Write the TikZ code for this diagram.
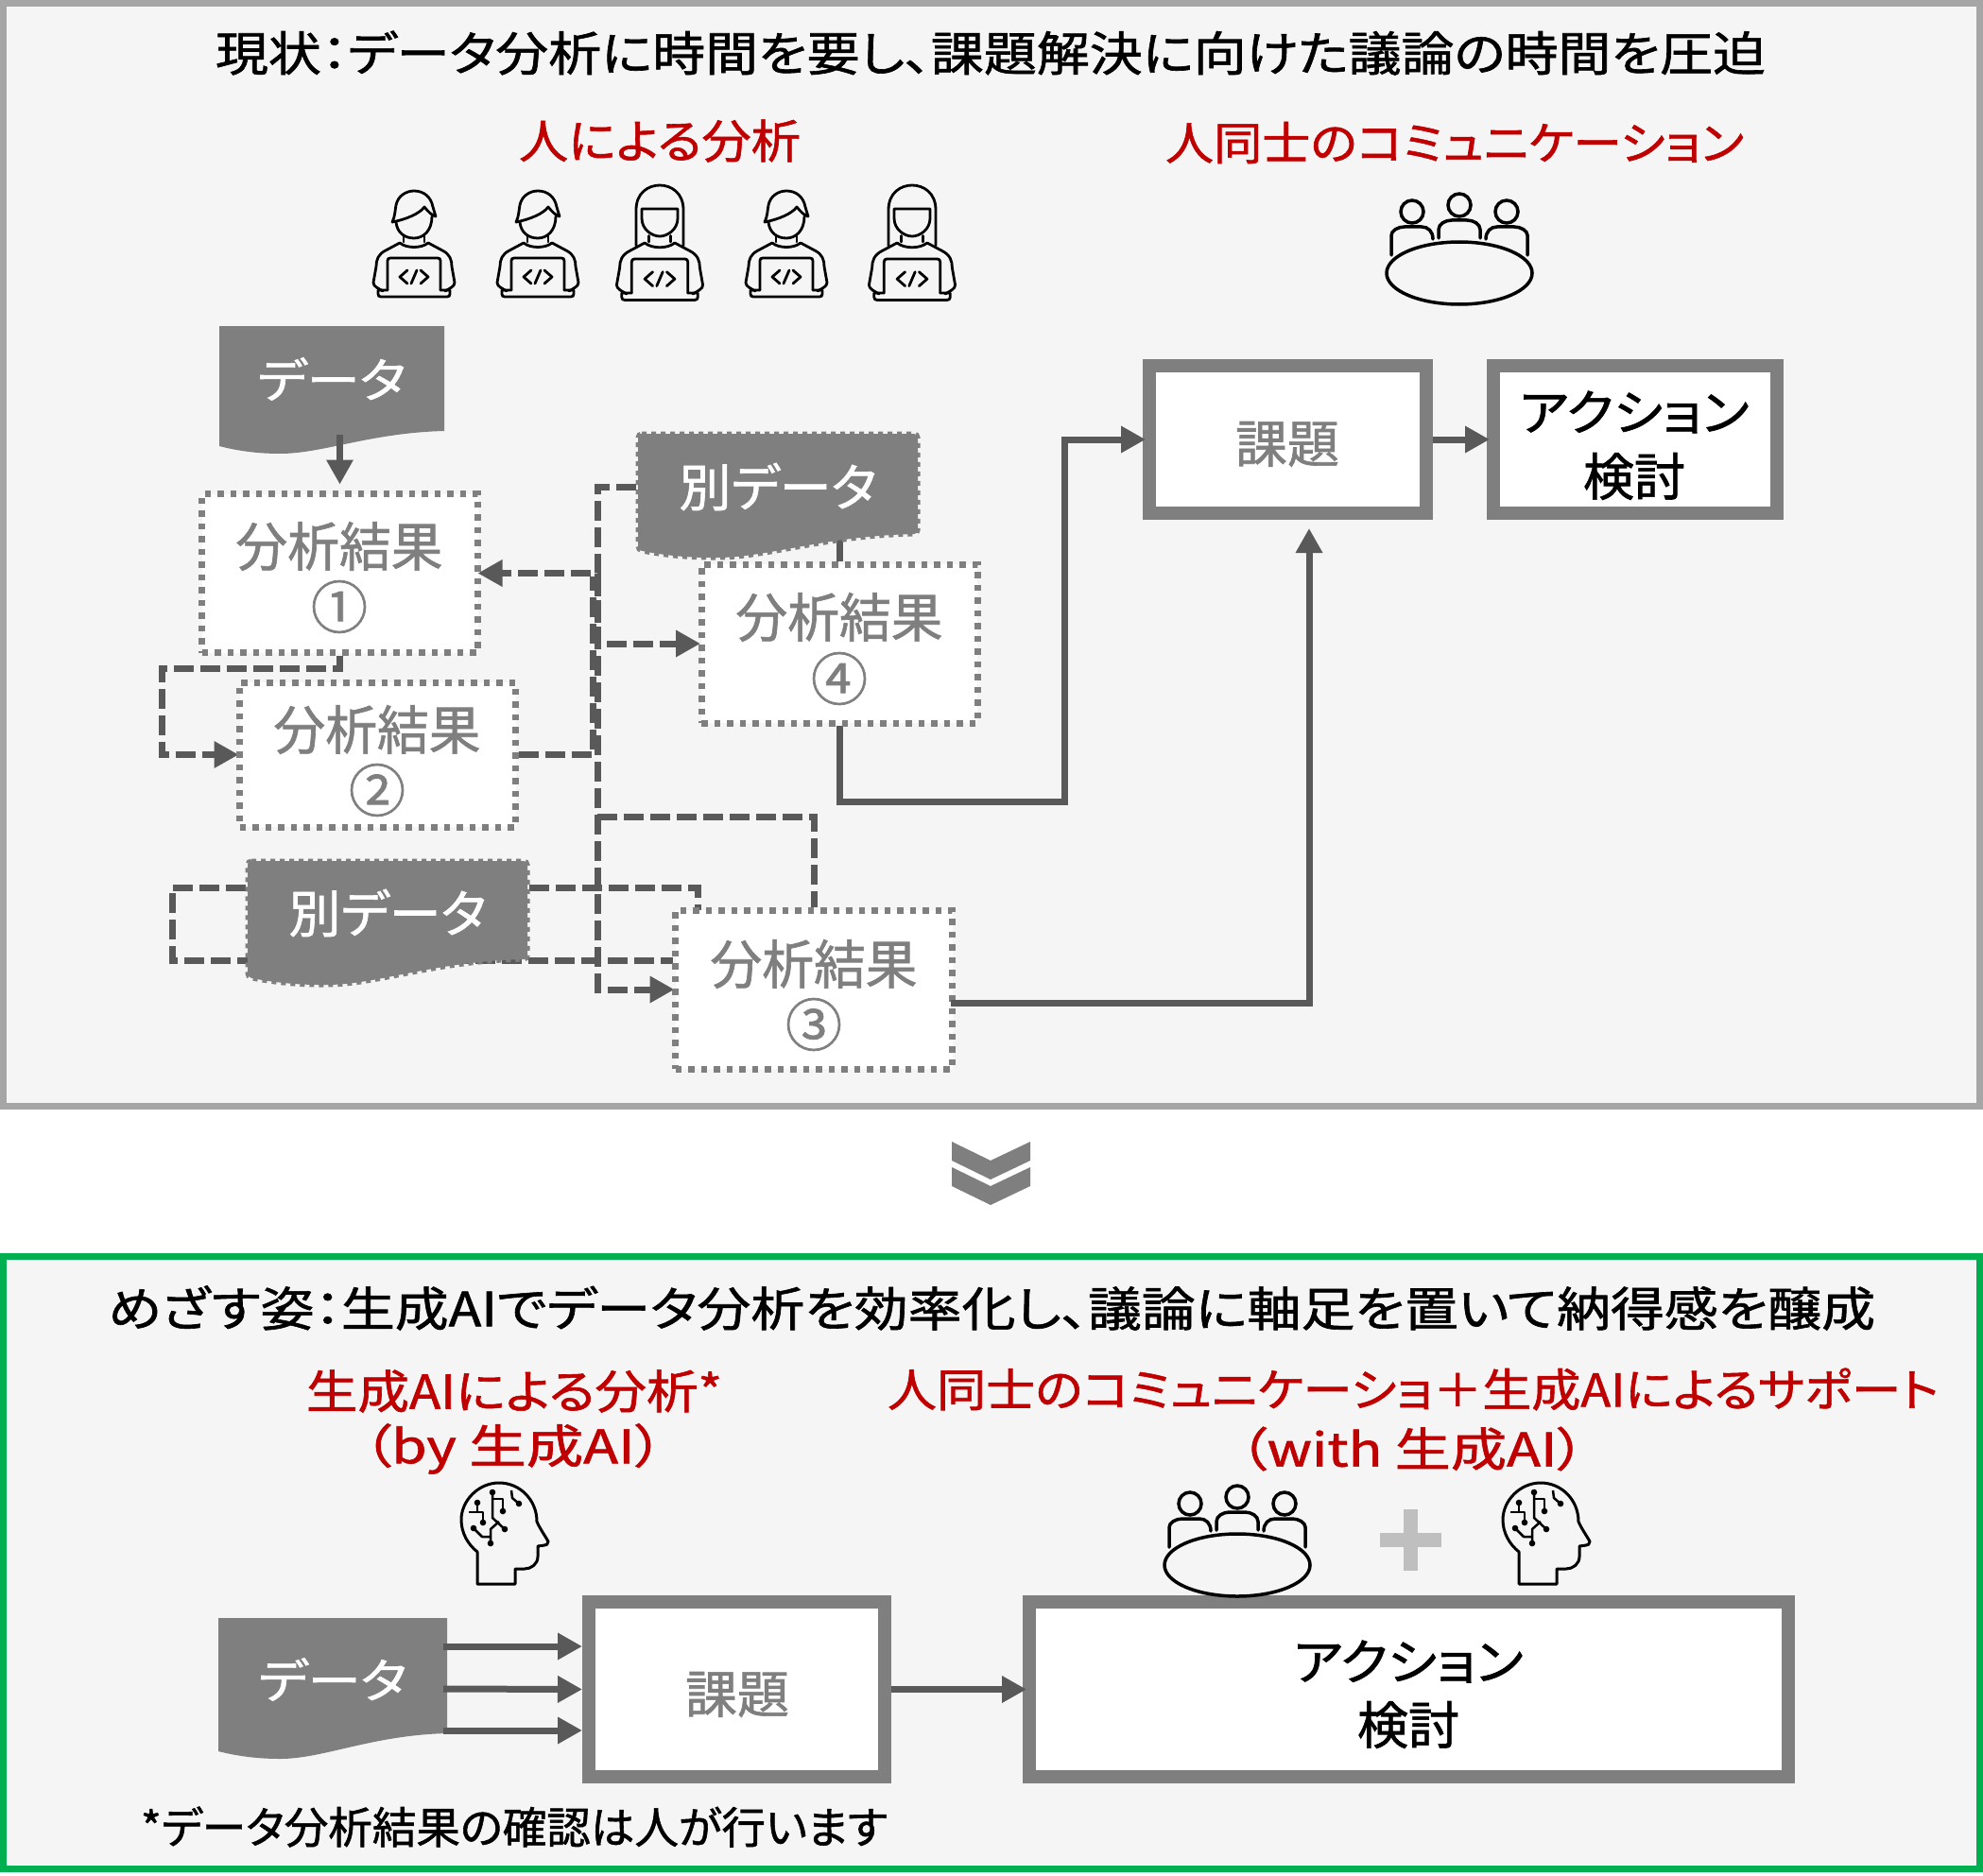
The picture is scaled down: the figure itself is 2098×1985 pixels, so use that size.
\documentclass[tikz,border=0pt]{standalone}
\usepackage{fontspec}
\usepackage{graphicx}
\usetikzlibrary{arrows.meta}
\setmainfont{Noto Sans CJK JP}[RawFeature=+palt,FakeBold=1.2]
\definecolor{panelbg}{HTML}{F5F5F5}
\definecolor{panelgray}{HTML}{A6A6A6}
\definecolor{panelgreen}{HTML}{00B050}
\definecolor{midgray}{HTML}{7F7F7F}
\definecolor{arrowgray}{HTML}{595959}
\definecolor{plusgray}{HTML}{BFBFBF}
\definecolor{redtext}{HTML}{C00000}
\newcommand{\fitT}[3]{\resizebox{#1pt}{\height}{\fontsize{#2pt}{#2pt}\selectfont #3}}
\newcommand{\docshape}[6]{\begin{scope}[shift={(#2,#3)}]\path[#1] (0,0) -- (#4,0) -- (#4,#5) .. controls ({0.67*#4},{#5+2}) and ({0.46*#4},#6) .. ({0.27*#4},#6) .. controls ({0.17*#4},#6) and ({0.08*#4},{#6-3}) .. (0,{#6-8}) -- cycle;\end{scope}}
\newcommand{\bodyicon}{%
 \draw (-11,-7) -- (-11,-1) (11,-7) -- (11,-1);
 \draw (-15,0) .. controls (-8,6) and (8,6) .. (15,0);
 \draw (-15,0) -- (-30,8) .. controls (-38,12) and (-40,18) .. (-40,25) -- (-43,42) .. controls (-43,46) and (-38,48) .. (-33,51);
 \draw (15,0) -- (30,8) .. controls (38,12) and (40,18) .. (40,25) -- (43,42) .. controls (43,46) and (38,48) .. (33,51);
 \draw (-28,50) -- (-28,19) .. controls (-28,17) and (-27,16) .. (-25,16) -- (25,16) .. controls (27,16) and (28,17) .. (28,19) -- (28,50);
 \draw (-28,50) -- (-38,50) -- (-38,54) .. controls (-38,56) and (-37,57) .. (-35,57) -- (35,57) .. controls (37,57) and (38,56) .. (38,54) -- (38,50) -- (28,50);
 \draw (-7,29) -- (-15,36) -- (-7,43) (3,29) -- (-3,43) (7,29) -- (15,36) -- (7,43);
}
\tikzset{
 x=1pt,y=-1pt,
 every node/.style={inner sep=0pt,outer sep=0pt,font=\rmfamily},
 dotbox/.style={draw=midgray,fill=white,line width=7pt,dash pattern=on 6.5pt off 7pt,outer sep=3pt},
 thickbox/.style={draw=midgray,fill=white,line width=14pt,outer sep=7pt},
 docfill/.style={fill=midgray},
 docdot/.style={fill=midgray,draw=midgray,line width=5pt,dash pattern=on 5pt off 5pt,rounded corners=4pt},
 solidconn/.style={draw=arrowgray,line width=7pt},
 dashconn/.style={draw=arrowgray,line width=7pt,dash pattern=on 21pt off 7pt},
 tip/.style={-{Triangle[length=26pt,width=27pt]}},
 gtext/.style={text=midgray},
 wtext/.style={text=white},
 rtext/.style={text=redtext},
 ktext/.style={text=black},
 man/.pic={
  \begin{scope}[line width=2.8pt,line join=round,line cap=round]
  \draw (-23,33) .. controls (-20,27) and (-20,20) .. (-19,15) .. controls (-17,5) and (-8,0) .. (0,0) .. controls (10,0) and (18,6) .. (20,17) .. controls (21,20) and (22,24) .. (23,27) .. controls (19,26) and (15,22) .. (11,17) .. controls (6,24) and (-8,30) .. (-23,33);
  \draw (-19,33) .. controls (-18,44) and (-10,50) .. (0,50) .. controls (10,50) and (19,42) .. (19,27);
  \begin{scope}[shift={(0,55)}]\bodyicon\end{scope}
  \end{scope}},
 woman/.pic={
  \begin{scope}[line width=2.8pt,line join=round,line cap=round]
  \draw (-25,64) -- (-25,26) .. controls (-25,8) and (-12,0) .. (0,0) .. controls (12,0) and (25,8) .. (25,26) -- (25,64);
  \draw (-19,25) -- (19,25) (-19,25) -- (-19,35) .. controls (-19,47) and (-8,54) .. (0,54) .. controls (8,54) and (19,47) .. (19,35) -- (19,25);
  \begin{scope}[shift={(0,61)},scale=1.06]\bodyicon\end{scope}
  \end{scope}},
 meet/.pic={
  \begin{scope}[line width=3.5pt,line cap=round]
  \draw (0,-72) circle[radius=12] (-50,-65) circle[radius=12] (50,-65) circle[radius=12];
  \draw (-22,-37) -- (-22,-46) .. controls (-22,-52) and (-15,-56) .. (-8,-56) -- (8,-56) .. controls (15,-56) and (22,-52) .. (22,-46) -- (22,-37);
  \draw (-72,-19) -- (-72,-40) .. controls (-72,-45) and (-65,-49) .. (-58,-49) -- (-40,-49) .. controls (-33,-49) and (-28,-44) .. (-28,-36);
  \draw (72,-19) -- (72,-40) .. controls (72,-45) and (65,-49) .. (58,-49) -- (40,-49) .. controls (33,-49) and (28,-44) .. (28,-36);
  \draw (0,0) ellipse[x radius=77,y radius=33];
  \end{scope}},
 brainicon/.pic={
  \begin{scope}[line width=3pt,line join=round]
  \draw (35,126) -- (35,92) .. controls (25,84) and (18,72) .. (18,58) .. controls (18,38) and (36,19) .. (58,19) .. controls (80,19) and (98,37) .. (98,60) .. controls (101,67) and (106,74) .. (110,81) .. controls (110,84) and (108,85) .. (106,85) -- (99,86) -- (99,97) .. controls (99,105) and (92,110) .. (85,110) -- (75,110) -- (75,126) -- cycle;
  \end{scope}
  \begin{scope}[line width=2.5pt,line join=round]
  \draw (51,29) -- (51,56) -- (64,68);
  \draw (51,36) -- (62,36) -- (62,49);
  \draw (35,40) -- (35,50) (26,50) -- (41,50) -- (41,61);
  \draw (31,67) -- (40,76) -- (49,76) (49,83) -- (49,68) -- (58,60);
  \draw (71,27) -- (72,35) -- (79,41);
  \fill (51,29) circle[radius=3.3] (64,68) circle[radius=3.3] (62,49) circle[radius=3.3] (35,40) circle[radius=3.3] (41,61) circle[radius=3.3] (31,67) circle[radius=3.3] (49,83) circle[radius=3.3] (79,41) circle[radius=3.3];
  \end{scope}}
}
\pgfdeclarelayer{panel}
\pgfdeclarelayer{conn}
\pgfsetlayers{panel,conn,main}
\begin{document}
\begin{tikzpicture}
\useasboundingbox (0,0) rectangle (2098,1985);
\begin{pgfonlayer}{panel}
 \fill[white] (0,0) rectangle (2098,1985);
 \draw[draw=panelgray,fill=panelbg,line width=7pt] (3.5,3.5) rectangle (2094.5,1170.5);
 \draw[draw=panelgreen,fill=panelbg,line width=7pt] (3.5,1329.5) rectangle (2094.5,1977.5);
\end{pgfonlayer}

% titles
\node[ktext] (title1) at (1048,56) {\fitT{1640}{50}{現状：データ分析に時間を要し、課題解決に向けた議論の時間を圧迫}};
\node[rtext] (lab1) at (698,149) {\fitT{298}{49}{人による分析}};
\node[rtext] (lab2) at (1539,151) {\fitT{612}{48}{人同士のコミュニケーション}};

% icons
\pic at (438,202) {man};
\pic at (569,202) {man};
\pic at (698,196) {woman};
\pic at (832,202) {man};
\pic at (965,196) {woman};
\pic at (1544,289) {meet};

% data shapes
\docshape{docfill}{232}{345}{238}{111}{135}
\docshape{docdot}{675}{459}{296}{106}{131}
\docshape{docdot}{262}{911}{296}{104}{131}
\node[wtext,minimum width=238pt,minimum height=111pt] (d1) at (351,401) {\fitT{157}{50}{データ}};
\node[wtext,minimum width=300pt,minimum height=108pt] (d2) at (823,515) {\fitT{209}{54}{別データ}};
\node[wtext,minimum width=300pt,minimum height=106pt] (d3) at (410,966) {\fitT{209}{54}{別データ}};

% analysis boxes
\node[dotbox,minimum width=292pt,minimum height=168pt] (b1) at (359.5,606.5) {};
\node[dotbox,minimum width=292pt,minimum height=153pt] (b2) at (399.5,798.5) {};
\node[dotbox,minimum width=292pt,minimum height=168pt] (b4) at (888,681) {};
\node[dotbox,minimum width=293pt,minimum height=168pt] (b3) at (861,1047) {};
\node[gtext] (t1) at (359,578) {\fitT{219}{56}{分析結果}};
\node[gtext] (n1) at (359,642) {\fontsize{60pt}{60pt}\selectfont ①};
\node[gtext] (t2) at (399,772) {\fitT{219}{56}{分析結果}};
\node[gtext] (n2) at (399,836) {\fontsize{60pt}{60pt}\selectfont ②};
\node[gtext] (t4) at (888,653) {\fitT{219}{56}{分析結果}};
\node[gtext] (n4) at (888,718) {\fontsize{60pt}{60pt}\selectfont ④};
\node[gtext] (t3) at (861,1020) {\fitT{219}{56}{分析結果}};
\node[gtext] (n3) at (861,1084) {\fontsize{60pt}{60pt}\selectfont ③};

% top result boxes
\node[thickbox,minimum width=293pt,minimum height=156pt] (k1) at (1362.5,465) {};
\node[thickbox,minimum width=300pt,minimum height=156pt] (a1) at (1730,465) {};
\node[gtext] (kt1) at (1362,470) {\fitT{110}{54}{課題}};
\node[ktext] (at1) at (1729,436) {\fitT{243}{52}{アクション}};
\node[ktext] (at2) at (1729,504) {\fitT{108}{54}{検討}};

% connectors
\draw[solidconn,tip] (b1.north |- d1.south) ++(0,3) -- ([yshift=7pt]b1.north);
\begin{pgfonlayer}{conn}
 \draw[solidconn] (b4.north |- d2.south) -- (b4.north);
 \draw[dashconn,tip] (d2.west) -- (632,515) -- (632,606.5) -- ([xshift=-3pt]b1.east);
 \draw[dashconn,tip] (632,606.5) -- (632,681) -- ([xshift=2pt]b4.west);
 \draw[dashconn,tip] (b1.south) -- (359.5,707) -- (171,707) -- (171,798.5) -- ([xshift=2pt]b2.west);
 \draw[dashconn] (b2.east) -- (627,798.5) -- (627,610);
 \draw[dashconn,tip] (632,610) -- (632,1047) -- ([xshift=2pt]b3.west);
 \draw[dashconn] (632,864) -- (861,864) -- (b3.north);
 \draw[dashconn] ([yshift=27pt]d3.east) -- (738,939) -- (738,963);
 \draw[dashconn] ([yshift=27pt]d3.west) -- (182,939) -- (182,1016) -- ([yshift=31pt]b3.west);
 \draw[solidconn] (b4.south) -- (888,848) -- (1126,848) -- (1126,465) -- (1190,465);
\end{pgfonlayer}
\draw[solidconn,tip] (1126,465) -- ([xshift=3pt]k1.west);
\draw[solidconn,tip] ([xshift=-5pt,yshift=-14pt]b3.east) -- (1385,1061) -- ([xshift=22.5pt,yshift=-9pt]k1.south);
\draw[solidconn,tip] (k1.east) -- ([xshift=3pt]a1.west);

% chevrons
\fill[midgray] (1007,1208) -- (1048,1228) -- (1090,1208) -- (1090,1228) -- (1048,1248) -- (1007,1228) -- cycle;
\fill[midgray] (1007,1235) -- (1048,1255) -- (1090,1235) -- (1090,1255) -- (1048,1275) -- (1007,1255) -- cycle;

% bottom panel
\node[ktext] (title2) at (1049,1384) {\fitT{1870}{50}{めざす姿：生成AIでデータ分析を効率化し、議論に軸足を置いて納得感を醸成}};
\node[rtext] (lab3) at (544,1472) {\fitT{440}{49}{生成AIによる分析*}};
\node[rtext] (lab4) at (543,1533) {\fitT{318}{49}{（by 生成AI）}};
\node[rtext] (lab5) at (1495,1470) {\fitT{1112}{48}{人同士のコミュニケーショ＋生成AIによるサポート}};
\node[rtext] (lab6) at (1494,1533) {\fitT{366}{49}{（with 生成AI）}};
\pic at (470,1550) {brainicon};
\pic at (1572,1550) {brainicon};
\fill[plusgray] (1460,1622) rectangle (1525,1637);
\fill[plusgray] (1485,1597) rectangle (1500,1662);

\docshape{docfill}{231}{1712}{242}{122}{149}
\node[wtext,minimum width=242pt,minimum height=150pt] (d4) at (352,1777) {\fitT{157}{50}{データ}};
\node[thickbox,minimum width=313pt,minimum height=185pt] (k2) at (779.5,1787.5) {};
\node[thickbox,minimum width=803pt,minimum height=185pt] (a2) at (1490.5,1787.5) {};
\node[gtext] (kt2) at (780,1793) {\fitT{110}{54}{課題}};
\node[ktext] (at3) at (1490,1758) {\fitT{243}{52}{アクション}};
\node[ktext] (at4) at (1490,1825) {\fitT{108}{54}{検討}};
\pic at (1309,1656) {meet};
\draw[solidconn,tip] ([yshift=35pt,xshift=-4pt]d4.east) -- ([yshift=45.5pt]k2.west);
\draw[solidconn,tip] ([yshift=-10pt,xshift=-4pt]d4.east) -- ([yshift=0pt]k2.west);
\draw[solidconn,tip] ([yshift=-54pt,xshift=-4pt]d4.east) -- ([yshift=-43.5pt]k2.west);
\draw[solidconn,tip] (k2.east) -- ([xshift=4pt]a2.west);
\node[ktext] (foot) at (544,1933) {\fitT{790}{46}{*データ分析結果の確認は人が行います}};
\end{tikzpicture}
\end{document}
